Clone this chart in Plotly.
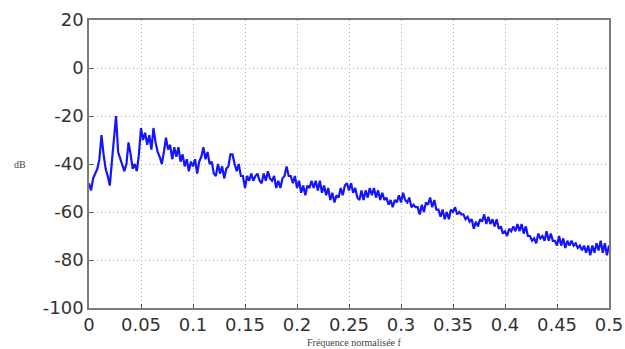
import plotly.graph_objects as go

# Normalised frequency step and spectrum values (dB)
f_step = 0.002
db_values = [
    -48, -51, -46, -44, -42, -38, -28, -36, -42, -45,
    -49, -39, -30, -20, -35, -38, -40, -43, -40, -31,
    -36, -42, -40, -43, -36, -25, -30, -27, -32, -28,
    -34, -25, -31, -35, -37, -40, -35, -29, -34, -32,
    -38, -33, -37, -33, -39, -36, -41, -38, -43, -39,
    -41, -38, -44, -39, -37, -33, -38, -35, -40, -39,
    -44, -45, -40, -44, -41, -46, -42, -41, -36, -36,
    -40, -43, -40, -45, -45, -50, -45, -47, -44, -47,
    -45, -44, -47, -48, -44, -47, -43, -46, -47, -45,
    -50, -47, -50, -46, -45, -41, -45, -45, -48, -45,
    -50, -47, -52, -49, -53, -49, -50, -47, -50, -47,
    -51, -47, -52, -49, -53, -50, -55, -52, -56, -53,
    -54, -50, -53, -49, -48, -51, -48, -52, -50, -54,
    -55, -51, -55, -51, -54, -50, -53, -50, -54, -51,
    -55, -52, -55, -54, -57, -55, -58, -55, -56, -53,
    -56, -52, -55, -56, -54, -58, -57, -58, -58, -61,
    -57, -60, -56, -57, -54, -58, -55, -59, -59, -62,
    -59, -63, -60, -63, -59, -60, -58, -61, -60, -61,
    -61, -63, -62, -64, -63, -67, -64, -66, -63, -64,
    -61, -65, -62, -65, -63, -66, -63, -67, -66, -69,
    -68, -70, -67, -68, -66, -68, -65, -68, -65, -69,
    -66, -70, -70, -72, -71, -73, -69, -71, -70, -72,
    -68, -72, -69, -72, -72, -74, -70, -74, -71, -75,
    -72, -74, -72, -74, -73, -75, -74, -76, -74, -77,
    -74, -78, -74, -77, -73, -76, -72, -77, -73, -78,
    -74,
]
freqs = [round(i * f_step, 4) for i in range(len(db_values))]

x_tick_vals = [0, 0.05, 0.1, 0.15, 0.2, 0.25, 0.3, 0.35, 0.4, 0.45, 0.5]
x_tick_text = ["0", "0.05", "0.1", "0.15", "0.2", "0.25", "0.3", "0.35", "0.4", "0.45", "0.5"]
y_tick_vals = [-100, -80, -60, -40, -20, 0, 20]
y_tick_text = ["-100", "-80", "-60", "-40", "-20", "0", "20"]

x_title = "Fréquence normalisée f"
y_title = "dB"

fig = go.Figure()
fig.add_trace(go.Scatter(
    x=freqs, y=db_values, mode="lines",
    line=dict(color="#1414ff", width=2.2),
    showlegend=False,
))

axis_common = dict(
    showline=True, linecolor="#7a7a7a", linewidth=1.5, mirror=True,
    showgrid=True, gridcolor="#a8a8a8", griddash="1px,3px", gridwidth=1,
    ticks="inside", ticklen=4, tickcolor="#555",
    zeroline=False, automargin=False,
    tickfont=dict(family="DejaVu Sans, sans-serif", size=18, color="#333"),
)

fig.update_layout(
    width=625, height=349,
    margin=dict(l=89, r=16, t=20, b=41),
    paper_bgcolor="white", plot_bgcolor="white",
    xaxis=dict(range=[0, 0.5], tickvals=x_tick_vals, ticktext=x_tick_text, **axis_common),
    yaxis=dict(range=[-100, 20], tickvals=y_tick_vals, ticktext=y_tick_text, **axis_common),
    annotations=[
        dict(text=x_title, xref="paper", yref="paper", x=0.51, y=-0.12,
             xanchor="center", yanchor="middle", showarrow=False,
             font=dict(family="Liberation Serif, serif", size=10, color="#444")),
        dict(text=y_title, xref="paper", yref="paper", x=-0.133, y=0.5,
             xanchor="center", yanchor="middle", showarrow=False,
             font=dict(family="Liberation Serif, serif", size=10, color="#444")),
    ],
)

fig.write_html("out.html")
